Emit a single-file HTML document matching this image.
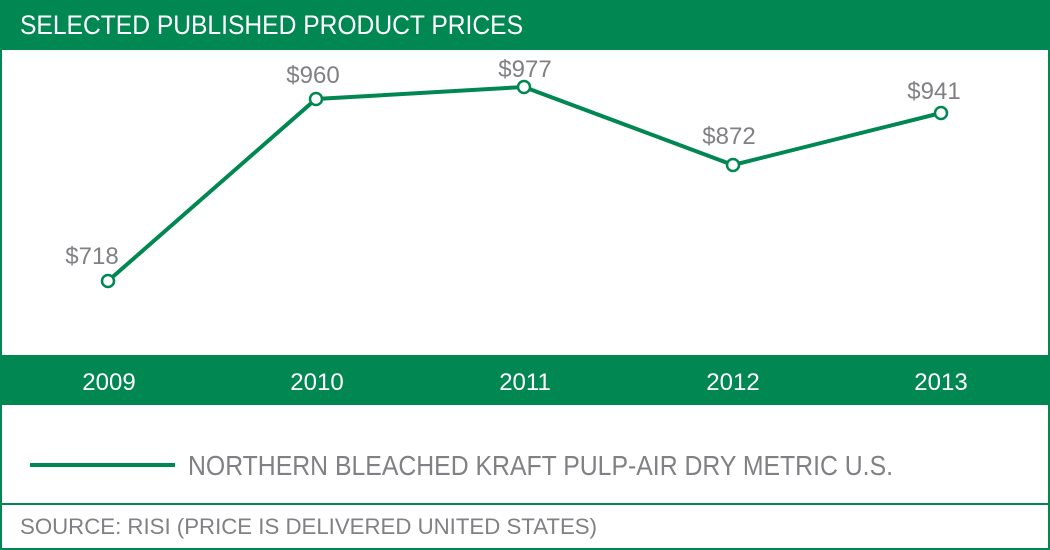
<!DOCTYPE html>
<html><head><meta charset="utf-8"><style>html,body{margin:0;padding:0;background:#fff}svg{display:block}</style></head>
<body>
<svg width="1050" height="550" viewBox="0 0 1050 550" xmlns="http://www.w3.org/2000/svg" font-family="Liberation Sans, sans-serif">
<rect x="0" y="0" width="1050" height="550" fill="#fff"/>
<rect x="0" y="0" width="1050" height="50" fill="#008752"/>
<text x="20" y="34" fill="#fff" font-size="27" textLength="503" lengthAdjust="spacingAndGlyphs">SELECTED PUBLISHED PRODUCT PRICES</text>
<rect x="0" y="0" width="2" height="550" fill="#008752"/>
<rect x="1048" y="0" width="2" height="550" fill="#008752"/>
<rect x="0" y="355" width="1050" height="50" fill="#008752"/>
<g fill="#fff" font-size="24" text-anchor="middle">
<text x="109" y="390">2009</text><text x="317" y="390">2010</text><text x="525" y="390">2011</text><text x="733" y="390">2012</text><text x="941" y="390">2013</text>
</g>
<polyline points="108,281 316,99 524,87 733,165 941,113" fill="none" stroke="#008752" stroke-width="4"/>
<g fill="#fff" stroke="#008752" stroke-width="2.5">
<circle cx="108" cy="281" r="6"/><circle cx="316" cy="99" r="6"/><circle cx="524" cy="87" r="6"/><circle cx="733" cy="165" r="6"/><circle cx="941" cy="113" r="6"/>
</g>
<g fill="#808085" font-size="24" text-anchor="middle">
<text x="92" y="264">$718</text><text x="313" y="83">$960</text><text x="525" y="77">$977</text><text x="729" y="144">$872</text><text x="934" y="99">$941</text>
</g>
<rect x="30" y="463" width="145" height="4" fill="#008752"/>
<text x="188" y="475" fill="#808085" font-size="28" textLength="705" lengthAdjust="spacingAndGlyphs">NORTHERN BLEACHED KRAFT PULP-AIR DRY METRIC U.S.</text>
<rect x="0" y="503" width="1050" height="2" fill="#008752"/>
<text x="20" y="534" fill="#808085" font-size="22" textLength="577" lengthAdjust="spacingAndGlyphs">SOURCE: RISI (PRICE IS DELIVERED UNITED STATES)</text>
<rect x="0" y="548" width="1050" height="2" fill="#008752"/>
</svg>
</body></html>
